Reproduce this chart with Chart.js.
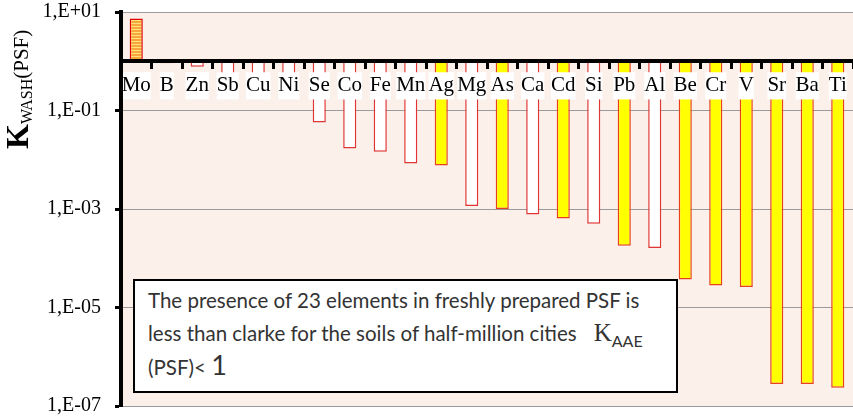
<!DOCTYPE html>
<html>
<head>
<meta charset="utf-8">
<script src="https://cdn.jsdelivr.net/npm/chart.js@4.4.1/dist/chart.umd.min.js"></script>
<style>
  html, body { margin: 0; padding: 0; background: #fff; }
  #wrap { position: relative; width: 853px; height: 416px; overflow: hidden; }
  #ytitle {
    position: absolute; left: 2px; top: 149px;
    transform-origin: 0 0; transform: rotate(-90deg);
    font-family: "Liberation Serif", serif; white-space: nowrap;
    line-height: 30px; height: 30px; color: #000;
  }
  #ytitle .k { font-size: 32px; font-weight: bold; }
  #ytitle .sub { font-size: 16px; vertical-align: -4px; }
  #ytitle .psf { font-size: 21px; }
  #note {
    position: absolute; left: 133px; top: 279px; width: 541px; height: 110px;
    border: 2px solid #000; background: #fff; color: #333;
    font-family: Lato, "Open Sans", sans-serif; font-size: 20.5px;
  }
  #note .ln { position: absolute; left: 13px; line-height: 20px; white-space: nowrap; }
  #note .kk { font-family: "Liberation Serif", serif; font-size: 25px; line-height: 20px; margin-left: 17px; }
  #note .ks { font-size: 16px; vertical-align: -6px; line-height: 20px; }
  #note .one { font-size: 27px; line-height: 20px; }
</style>
</head>
<body>
<div id="wrap">
  <canvas id="chart" width="853" height="416"></canvas>
  <div id="ytitle"><span class="k">K</span><span class="sub">WASH</span><span class="psf">(PSF)</span></div>
  <div id="note">
    <div class="ln" style="top:9px">The presence of 23 elements in freshly prepared PSF is</div>
    <div class="ln" style="top:42px">less than clarke for the soils of half-million cities<span class="kk">K</span><span class="ks">AAE</span></div>
    <div class="ln" style="top:74px">(PSF)&lt; <span class="one">1</span></div>
  </div>
</div>
<script>
// ---- data ----
const elements = ['Mo','B','Zn','Sb','Cu','Ni','Se','Co','Fe','Mn','Ag','Mg','As','Ca','Cd','Si','Pb','Al','Be','Cr','V','Sr','Ba','Ti'];
const kWash = [7.4, 0.91, 0.77, 0.42, 0.33, 0.26, 0.057, 0.017, 0.0145, 0.0084, 0.0076, 0.00115,
               0.001, 0.00077, 0.00064, 0.0005, 0.00018, 0.000162, 3.7e-5, 2.8e-5, 2.6e-5, 2.8e-7, 2.8e-7, 2.35e-7];
// 'over' = above 1, 'plain' = white bar, 'marked' = yellow bar
const barKind = ['over','plain','plain','plain','plain','plain','plain','plain','plain','plain','marked','plain',
                 'marked','plain','marked','plain','marked','plain','marked','marked','marked','marked','marked','marked'];
const baseValue = 1;
const yTicks = [1e-7, 1e-5, 1e-3, 1e-1, 10];
const yTickLabels = ['1,E-07', '1,E-05', '1,E-03', '1,E-01', '1,E+01'];

/* ---------- hatched fill for Mo ---------- */
const pc = document.createElement('canvas');
pc.width = 4; pc.height = 3;
const pg = pc.getContext('2d');
pg.fillStyle = '#f7a83c'; pg.fillRect(0, 0, 4, 2);
pg.fillStyle = '#ffe37a'; pg.fillRect(0, 2, 4, 1);
const moFill = pg.createPattern(pc, 'repeat');

const fillOf = { over: moFill, plain: '#ffffff', marked: '#ffff00' };
const edgeOf = { over: '#e00000', plain: '#e03535', marked: '#e8401c' };

/* ---------- plot area background ---------- */
const plotBg = {
  id: 'plotBg',
  beforeDraw(chart) {
    const { ctx, chartArea: a } = chart;
    ctx.save();
    ctx.fillStyle = '#fcf0ea';
    ctx.fillRect(a.left, a.top, a.right - a.left, a.bottom - a.top);
    ctx.restore();
  }
};

new Chart(document.getElementById('chart'), {
  type: 'bar',
  data: {
    labels: elements,
    datasets: [{
      data: kWash.map(v => [baseValue, v]),
      backgroundColor: barKind.map(k => fillOf[k]),
      borderColor: barKind.map(k => edgeOf[k]),
      borderWidth: 1.5,
      borderSkipped: false,
      barPercentage: 0.43,
      categoryPercentage: 1
    }]
  },
  options: {
    responsive: false,
    animation: false,
    layout: { padding: { top: 12, bottom: 10, left: 0, right: 0 } },
    plugins: { legend: { display: false }, tooltip: { enabled: false } },
    scales: {
      x: {
        type: 'category',
        position: { y: baseValue },
        offset: true,
        afterFit(scale) { scale.height = 0; },
        border: { color: '#000', width: 4, z: 1 },
        grid: { offset: true, drawOnChartArea: false, drawTicks: true, tickLength: 6, tickWidth: 3, tickColor: '#000', z: 1 },
        ticks: {
          z: 1,
          autoSkip: false, maxRotation: 0, minRotation: 0,
          color: '#000', padding: 6,
          font: { family: 'Liberation Serif', size: 21 },
          showLabelBackdrop: true, backdropColor: '#fff',
          backdropPadding: { top: 1, bottom: 1, left: 0, right: 0 }
        }
      },
      y: {
        type: 'logarithmic',
        min: 1e-7, max: 10,
        border: { color: '#000', width: 4, z: 1 },
        grid: { color: '#9a9a9a', lineWidth: 1, tickColor: '#000', tickLength: 6, tickWidth: 3 },
        afterBuildTicks(scale) { scale.ticks = yTicks.map(v => ({ value: v })); },
        afterFit(scale) { scale.width = 121; scale.paddingTop = 0; scale.paddingBottom = 0; },
        ticks: {
          color: '#000', padding: 14,
          font: { family: 'Liberation Serif', size: 20 },
          callback: (v) => yTickLabels[yTicks.indexOf(v)] ?? ''
        }
      }
    }
  },
  plugins: [plotBg]
});
</script>
</body>
</html>
